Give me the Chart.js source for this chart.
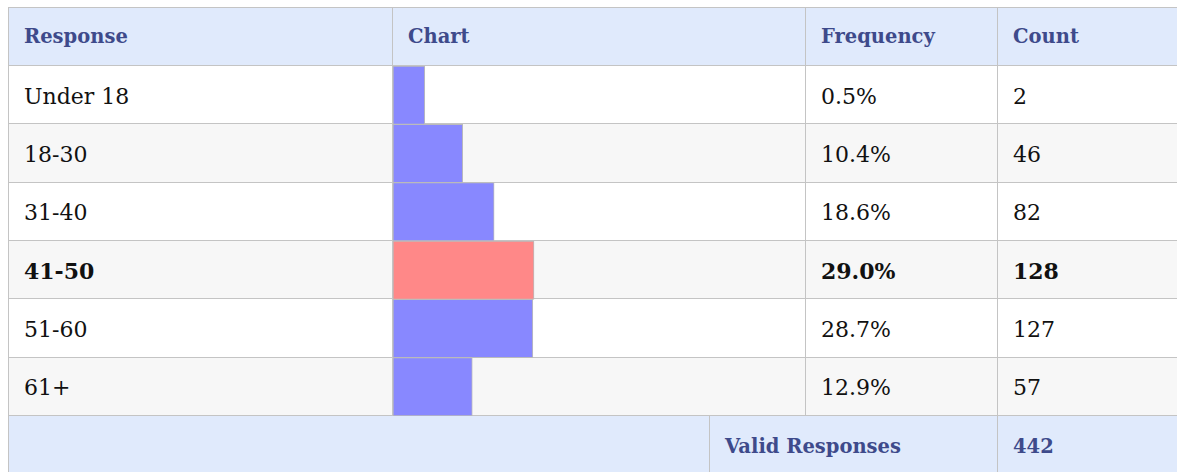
<!DOCTYPE html>
<html>
<head>
<meta charset="utf-8">
<script src="https://cdn.jsdelivr.net/npm/chart.js@4"></script>
<style>
  html, body { margin: 0; padding: 0; background: #fff; overflow: hidden; }
  body { padding: 7px 0 0 8px; }
  #wrap { position: relative; }
  table { border-collapse: collapse; table-layout: fixed; width: 1181px;
          font-family: "DejaVu Serif", serif; font-size: 22px; color: #111; }
  td, th { border: 1px solid #c4c4c4; padding: 3px 0 0 15px; height: 58.33px;
           text-align: left; white-space: nowrap; box-sizing: border-box; }
  th { background: #e0eafc; color: #3e4a8b; font-size: 19.5px; font-weight: bold;
       padding-top: 0; height: 58px; }
  tbody tr:nth-child(even) td { background: #f7f7f7; }
  tr.top td { font-weight: bold; }
  tfoot td { background: #e0eafc; color: #3e4a8b; font-size: 19.5px; font-weight: bold; }
  #chartBox { position: absolute; pointer-events: none; }
</style>
</head>
<body>
<div id="wrap">
  <table id="tbl">
    <colgroup>
      <col style="width:384px"><col style="width:317px"><col style="width:96px">
      <col style="width:192px"><col style="width:192px">
    </colgroup>
    <thead>
      <tr><th>Response</th><th colspan="2">Chart</th><th>Frequency</th><th>Count</th></tr>
    </thead>
    <tbody id="rows"></tbody>
    <tfoot>
      <tr><td colspan="2"></td><td colspan="2" id="validLabel">Valid Responses</td><td id="validCount"></td></tr>
    </tfoot>
  </table>
  <div id="chartBox"><canvas id="myChart"></canvas></div>
</div>
<script>
"use strict";

const responses = ["Under 18", "18-30", "31-40", "41-50", "51-60", "61+"];
const frequency = [0.5, 10.4, 18.6, 29.0, 28.7, 12.9];
const counts = [2, 46, 82, 128, 127, 57];
const validResponses = 442;

// scale of the little bar column
const scaleMin = -7.8;
const scaleMax = 100;

// Most common answer gets highlighted
let topIndex = frequency.indexOf(Math.max(...frequency));

// Fill the table body
let rows = document.getElementById("rows");
for (let i = 0; i < responses.length; i++) {
    let tr = document.createElement("tr");
    if (i === topIndex) tr.className = "top";
    tr.innerHTML = "<td>" + responses[i] + "</td>" +
                   "<td colspan='2' class='chartCell'></td>" +
                   "<td>" + frequency[i].toFixed(1) + "%</td>" +
                   "<td>" + counts[i] + "</td>";
    rows.appendChild(tr);
}
document.getElementById("validCount").innerHTML = validResponses;

// Lay the canvas over the chart column
let wrapRect = document.getElementById("wrap").getBoundingClientRect();
let cells = document.querySelectorAll(".chartCell");
let firstRect = cells[0].getBoundingClientRect();
let lastRect = cells[cells.length - 1].getBoundingClientRect();
let box = document.getElementById("chartBox");
box.style.left = (firstRect.left - wrapRect.left) + "px";
box.style.top = (firstRect.top - wrapRect.top) + "px";
box.style.width = firstRect.width + "px";
box.style.height = (lastRect.bottom - firstRect.top) + "px";

let barColors = frequency.map((v, i) => i === topIndex ? "#ff8888" : "#8888ff");

const theChart = new Chart(document.getElementById("myChart"), {
    type: "bar",
    data: {
        labels: responses,
        datasets: [{
            data: frequency,
            base: scaleMin,
            backgroundColor: barColors,
            borderColor: "#bbbbbb",
            borderWidth: 1,
            borderSkipped: false,
            barPercentage: 1,
            categoryPercentage: 1
        }]
    },
    options: {
        indexAxis: "y",
        responsive: true,
        maintainAspectRatio: false,
        animation: false,
        layout: { padding: 0 },
        plugins: { legend: { display: false }, tooltip: { enabled: false } },
        scales: {
            x: { display: false, min: scaleMin, max: scaleMax },
            y: { display: false }
        }
    }
});
</script>
</body>
</html>
